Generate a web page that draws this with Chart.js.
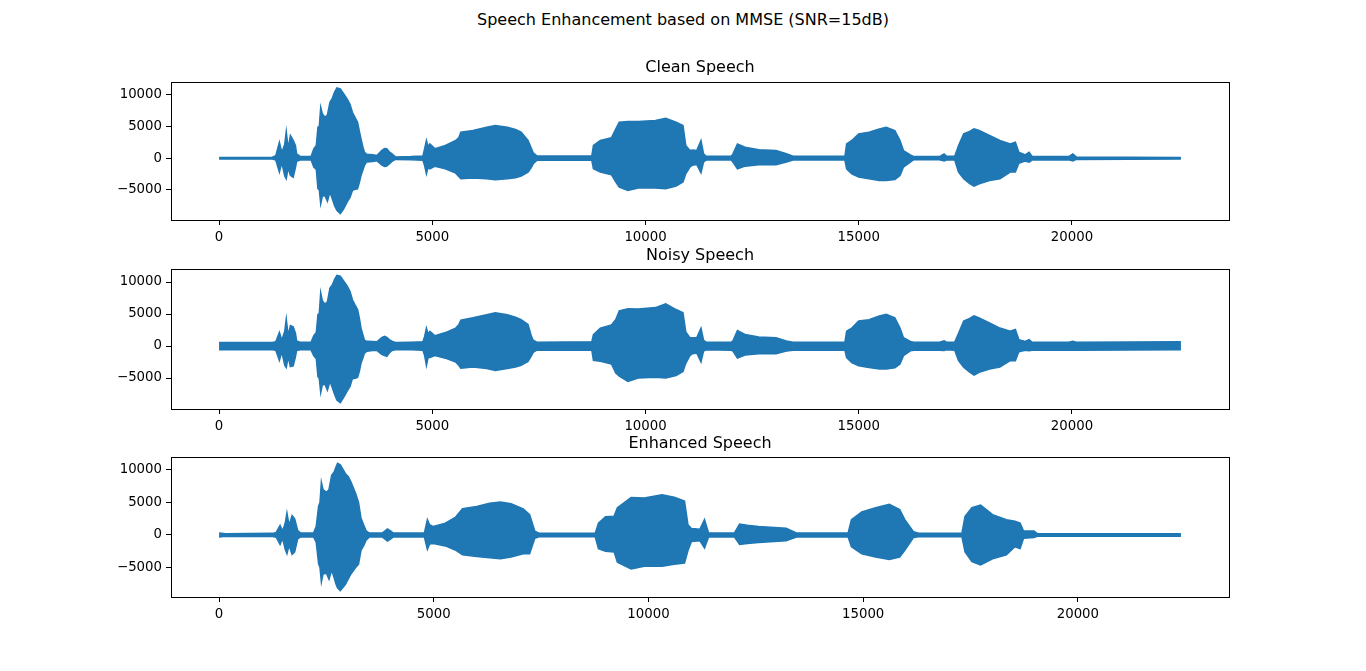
<!DOCTYPE html>
<html lang="en">
<head>
<meta charset="UTF-8">
<title>Speech Enhancement based on MMSE</title>
<style>
  body { margin: 0; background: #fff; }
  #wrap { position: relative; width: 1366px; height: 671px; font-family: 'DejaVu Sans', sans-serif; }
  #suptitle { position: absolute; left: 0; top: 10px; width: 1366px; text-align: center; font-size: 16px; line-height: 20px; color: #000; }
  canvas { position: absolute; left: 0; }
</style>
</head>
<body>
<div id="wrap">
  <div id="suptitle">Speech Enhancement based on MMSE (SNR=15dB)</div>
  <canvas id="clean" width="1366" height="250" style="top:0px"></canvas>
  <canvas id="noisy" width="1366" height="209" style="top:230px"></canvas>
  <canvas id="enhanced" width="1366" height="207" style="top:420px"></canvas>
</div>
<script src="https://cdn.jsdelivr.net/npm/chart.js"></script>
<script>
// tick labels
var xTicks = [0, 5000, 10000, 15000, 20000];
var yTicks = [-5000, 0, 5000, 10000];

// waveform envelopes (sample index, upper, lower)
var cleanX = [0, 1250, 1330, 1414, 1470, 1540, 1575, 1620, 1672, 1737,
  1790, 1817, 1900, 2157, 2221, 2280, 2318, 2350, 2383, 2420,
  2480, 2540, 2600, 2660, 2706, 2762, 2843, 2924, 3005, 3070,
  3126, 3190, 3247, 3290, 3328, 3370, 3408, 3460, 3600, 3700,
  3812, 3880, 3933, 3990, 4054, 4135, 4500, 4780, 4820, 4862,
  4900, 4943, 5064, 5306, 5548, 5620, 5669, 5952, 6275, 6477,
  6760, 6950, 7083, 7244, 7320, 7365, 7450, 8740, 8778, 8940,
  9200, 9303, 9384, 9586, 9828, 10232, 10474, 10716, 10878, 10943,
  11040, 11100, 11200, 11300, 11360, 11420, 12010, 12050, 12155, 12333,
  12656, 13060, 13302, 13460, 14675, 14715, 14836, 14998, 15240, 15482,
  15644, 15846, 15967, 16048, 16209, 16290, 16895, 17000, 17060, 17250,
  17340, 17460, 17600, 17703, 17824, 18066, 18309, 18551, 18672, 18753,
  18900, 18995, 19060, 19923, 20020, 20100, 22554];
var cleanUp = [120, 150, 400, 2500, 900, 2200, 4200, 1500, 3560, 2800,
  2000, 680, 300, 250, 1470, 2000, 4870, 5000, 8000, 7000,
  6450, 6800, 8800, 9500, 10370, 11050, 10900, 10100, 9300, 8500,
  7230, 6400, 5660, 4200, 3040, 1800, 940, 600, 520, 400,
  1200, 1500, 1470, 1000, 680, 200, 250, 350, 1500, 2780,
  1800, 2250, 1470, 2000, 2780, 3200, 4090, 4350, 4870, 5130,
  4870, 4500, 4090, 2780, 1600, 840, 350, 350, 2000, 2780,
  3200, 4610, 5660, 5760, 5760, 5920, 6290, 5660, 5130, 2000,
  1200, 1300, 1200, 2780, 700, 300, 300, 680, 2250, 1730,
  1310, 1200, 680, 300, 300, 2250, 2780, 3830, 4090, 4610,
  4870, 4350, 2780, 1200, 520, 250, 250, 680, 300, 300,
  2000, 3830, 4200, 4610, 4350, 3560, 2780, 2250, 2520, 940,
  500, 940, 300, 250, 680, 200, 120];
var cleanLo = [-120, -150, -300, -2200, -700, -2800, -3250, -1500, -2700, -3000,
  -1500, -500, -300, -250, -1400, -1800, -4800, -5000, -7200, -6000,
  -5870, -6800, -5340, -6500, -7440, -8230, -8750, -7960, -6900, -6200,
  -5080, -4900, -4820, -3800, -2720, -1900, -1150, -600, -520, -400,
  -1050, -1300, -1260, -900, -500, -200, -250, -350, -1200, -2460,
  -1500, -1680, -1260, -1680, -2360, -2900, -3250, -3140, -3250, -3400,
  -3250, -3100, -2830, -2200, -1500, -890, -350, -350, -1680, -2200,
  -2600, -3770, -4560, -5080, -4720, -4720, -4820, -4400, -3770, -2460,
  -1400, -1100, -1000, -2300, -600, -300, -300, -630, -1680, -1260,
  -1050, -1050, -630, -300, -300, -1680, -2460, -2990, -3250, -3510,
  -3510, -3350, -2720, -1400, -630, -250, -250, -450, -300, -300,
  -2200, -3250, -4000, -4400, -4030, -3510, -3250, -2200, -2200, -800,
  -450, -630, -300, -250, -450, -200, -120];

var noisyX = cleanX.slice();
var noisyUp = [550, 550, 650, 2150, 900, 2300, 4240, 1600, 3200, 3000,
  2000, 800, 600, 600, 1620, 2100, 4900, 5100, 8330, 7100,
  6550, 6900, 9060, 9600, 10400, 11040, 10900, 10150, 9350, 8500,
  7230, 6400, 5700, 4300, 2780, 1800, 900, 730, 700, 650,
  1300, 1500, 1360, 1000, 750, 550, 600, 650, 1500, 2800,
  1900, 2300, 1600, 2100, 2800, 3300, 4030, 4400, 4900, 5190,
  4900, 4500, 4100, 3350, 1600, 900, 600, 650, 1780, 2800,
  3300, 4140, 5500, 5820, 5800, 6000, 6600, 5700, 5200, 2200,
  1300, 1300, 1300, 2800, 900, 600, 600, 800, 2400, 1800,
  1400, 1300, 800, 600, 600, 2300, 2800, 3900, 4100, 4700,
  4950, 4400, 2800, 1300, 700, 600, 600, 800, 600, 600,
  2000, 3900, 4300, 4700, 4400, 3600, 2800, 2300, 2600, 1000,
  700, 1000, 600, 600, 750, 600, 650];
var noisyLo = [-600, -600, -650, -2250, -900, -3000, -3350, -1700, -3200, -3100,
  -1700, -700, -600, -600, -1520, -2000, -4770, -5100, -7280, -6100,
  -5950, -6900, -5500, -6600, -7500, -8440, -8850, -8000, -7000, -6300,
  -5100, -5030, -4900, -3900, -2670, -1900, -1100, -840, -700, -700,
  -1300, -1500, -1620, -1100, -700, -600, -600, -650, -1500, -3040,
  -1800, -1800, -1500, -1900, -2500, -3000, -3460, -3300, -3500, -3830,
  -3500, -3300, -3000, -2400, -1600, -1000, -650, -650, -2250, -2400,
  -2800, -4240, -4700, -5550, -5000, -4900, -5000, -4600, -4000, -2700,
  -1500, -1200, -1100, -2500, -800, -600, -650, -800, -1900, -1400,
  -1200, -1200, -800, -650, -650, -1800, -2600, -3100, -3350, -3600,
  -3600, -3400, -2800, -1500, -750, -650, -650, -700, -600, -650,
  -2300, -3300, -4100, -4550, -4100, -3600, -3300, -2300, -2300, -900,
  -650, -750, -650, -650, -650, -650, -600];

var enhX = [0, 150, 1250, 1330, 1420, 1480, 1540, 1580, 1630, 1700,
  1760, 1830, 1900, 2200, 2262, 2318, 2350, 2382, 2420, 2502,
  2560, 2622, 2680, 2720, 2759, 2823, 2943, 3005, 3070, 3184,
  3247, 3304, 3370, 3424, 3500, 3800, 3921, 4000, 4060, 4780,
  4851, 4900, 4990, 5268, 5500, 5669, 6000, 6300, 6551, 6800,
  7083, 7232, 7352, 7450, 8760, 8835, 9000, 9200, 9276, 9596,
  9900, 10318, 10600, 10839, 10920, 11000, 11200, 11305, 11400, 12000,
  12122, 12300, 12563, 13205, 13445, 14650, 14727, 14968, 15289, 15609,
  15850, 15970, 16170, 16290, 17300, 17373, 17533, 17734, 18014, 18335,
  18535, 18655, 18735, 18976, 19056, 22400];
var enhUp = [300, 200, 250, 400, 1470, 600, 1800, 3400, 1500, 2990,
  2500, 700, 300, 300, 1300, 4450, 5000, 8120, 7000, 6550,
  7000, 9170, 9700, 10400, 11020, 10800, 9430, 9000, 8200, 6290,
  5000, 2620, 1500, 630, 300, 300, 940, 600, 300, 300,
  2360, 1600, 1300, 1830, 2700, 4030, 4400, 4900, 5080, 4800,
  4000, 3140, 600, 280, 280, 1830, 2800, 2900, 4190, 5760,
  5700, 6180, 5800, 5240, 1570, 1000, 900, 2360, 300, 300,
  1680, 1500, 1310, 1050, 300, 300, 2360, 3560, 4190, 4720,
  3930, 2360, 520, 280, 280, 2880, 4190, 4610, 3140, 2360,
  2100, 1830, 600, 630, 200, 180];
var enhLo = [-300, -200, -250, -350, -1470, -500, -2200, -2880, -1600, -2990,
  -2600, -600, -300, -300, -1100, -4450, -5000, -7230, -6000, -5900,
  -6800, -5400, -6600, -7500, -8120, -8560, -7600, -6800, -6000, -4980,
  -4500, -2350, -1600, -800, -300, -300, -940, -600, -300, -300,
  -2200, -1400, -1300, -1680, -2300, -3040, -3300, -3500, -3670, -3400,
  -2900, -2880, -500, -280, -280, -2100, -2500, -2600, -4190, -5240,
  -4800, -4800, -4500, -4300, -2400, -1000, -900, -2000, -300, -300,
  -1470, -1300, -1150, -900, -300, -300, -1830, -2880, -3400, -3770,
  -3400, -2360, -400, -280, -280, -2620, -4090, -4610, -3670, -3040,
  -1800, -2100, -500, -400, -200, -180];

var BLUE = '#1f77b4';

Chart.defaults.font.family = "'DejaVu Sans', sans-serif";
Chart.defaults.font.size = 13.3;
Chart.defaults.color = '#000';

// matplotlib style minus sign, no thousands separator
function fmt(v) {
    return v < 0 ? '\u2212' + Math.abs(v) : String(v);
}

// black box around the plot area
var frame = {
    id: 'frame',
    afterDraw: function (chart) {
        var a = chart.chartArea, c = chart.ctx;
        c.save();
        c.strokeStyle = '#000';
        c.lineWidth = 1;
        c.strokeRect(Math.round(a.left) + 0.5, Math.round(a.top) + 0.5,
            Math.round(a.right - a.left), Math.round(a.bottom - a.top));
        c.restore();
    }
};

function waveChart(id, title, xs, ups, los, topPad) {
    var lo = Math.min.apply(null, los), hi = Math.max.apply(null, ups);
    var x0 = xs[0], x1 = xs[xs.length - 1];
    var ym = 0.05 * (hi - lo), xm = 0.05 * (x1 - x0);
    return new Chart(document.getElementById(id), {
        type: 'line',
        data: {
            datasets: [{
                data: xs.map(function (x, i) { return { x: x, y: ups[i] }; }),
                borderColor: BLUE,
                backgroundColor: BLUE,
                borderWidth: 1.5,
                pointRadius: 0,
                fill: '+1'
            }, {
                data: xs.map(function (x, i) { return { x: x, y: los[i] }; }),
                borderColor: BLUE,
                backgroundColor: BLUE,
                borderWidth: 1.5,
                pointRadius: 0,
                fill: false
            }]
        },
        options: {
            responsive: false,
            animation: false,
            layout: { padding: { top: topPad, left: 0, right: 137, bottom: 0 } },
            plugins: {
                legend: { display: false },
                tooltip: { enabled: false },
                title: {
                    display: true,
                    text: title,
                    fullSize: false,
                    color: '#000',
                    font: { size: 16, weight: 'normal', lineHeight: 1.2 },
                    padding: { top: 0, bottom: 4 }
                }
            },
            scales: {
                x: {
                    type: 'linear',
                    min: x0 - xm,
                    max: x1 + xm,
                    afterBuildTicks: function (ax) { ax.ticks = xTicks.map(function (v) { return { value: v }; }); },
                    afterFit: function (ax) { ax.height = 30; },
                    grid: { drawOnChartArea: false, tickLength: 5, color: '#000' },
                    border: { display: false },
                    ticks: { padding: 5, maxRotation: 0, callback: fmt }
                },
                y: {
                    type: 'linear',
                    min: lo - ym,
                    max: hi + ym,
                    afterBuildTicks: function (ax) { ax.ticks = yTicks.map(function (v) { return { value: v }; }); },
                    afterFit: function (ax) { ax.width = 171; },
                    grid: { drawOnChartArea: false, tickLength: 5, color: '#000' },
                    border: { display: false },
                    ticks: { padding: 4, callback: fmt }
                }
            }
        },
        plugins: [frame]
    });
}

waveChart('clean', 'Clean Speech', cleanX, cleanUp, cleanLo, 58.5);
waveChart('noisy', 'Noisy Speech', noisyX, noisyUp, noisyLo, 15.8);
waveChart('enhanced', 'Enhanced Speech', enhX, enhUp, enhLo, 13.8);
</script>
</body>
</html>
